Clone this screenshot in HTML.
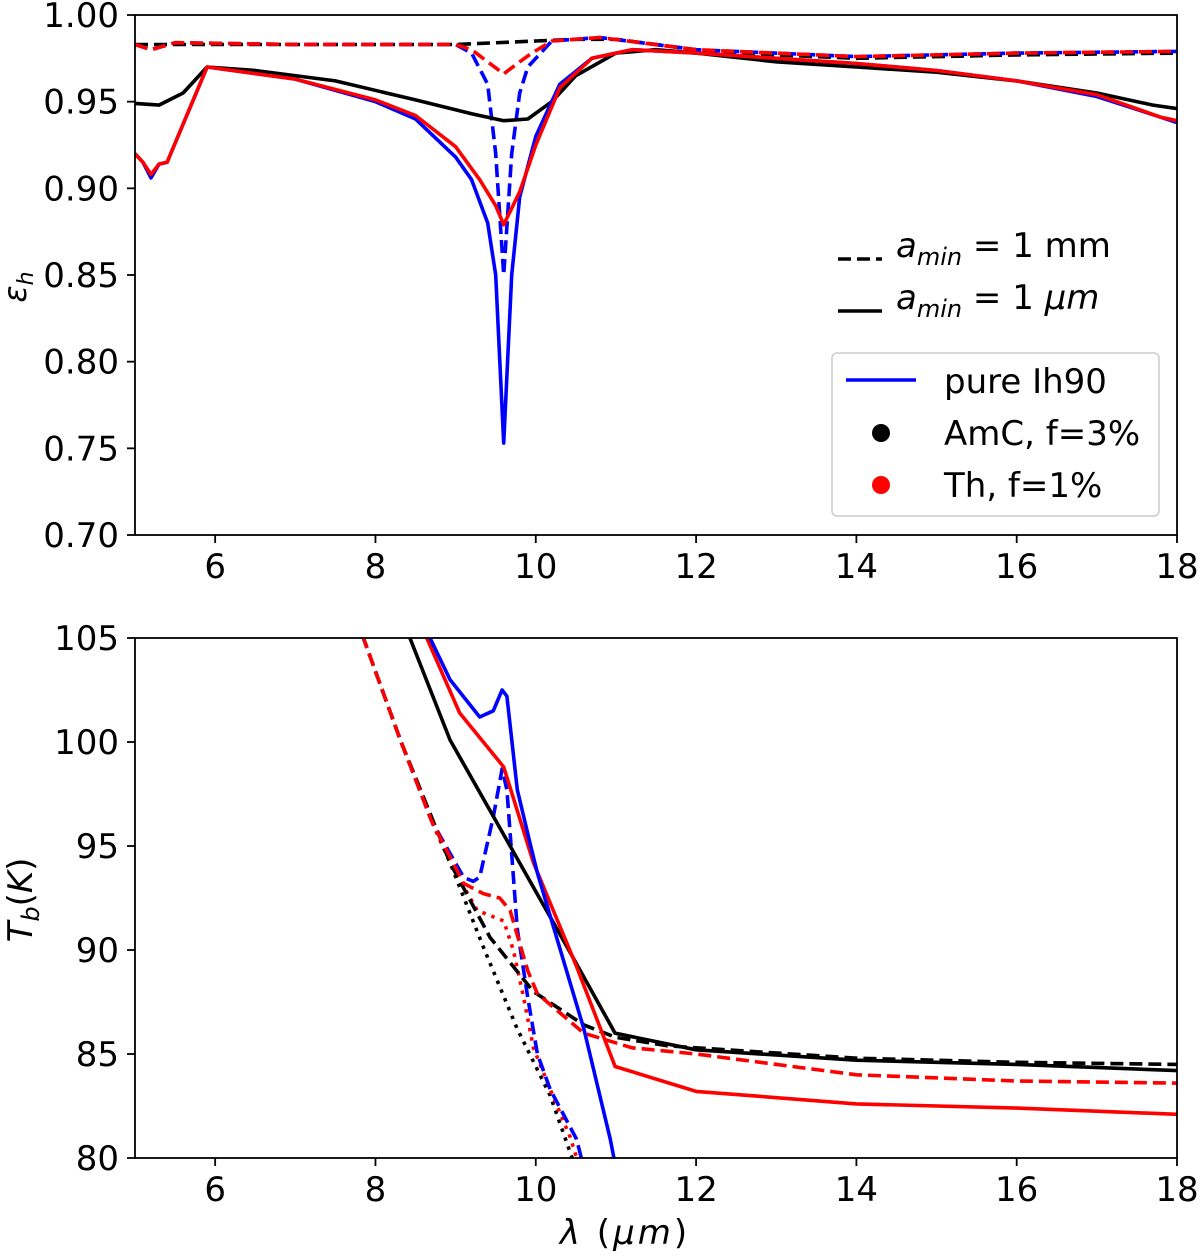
<!DOCTYPE html>
<html><head><meta charset="utf-8">
<style>
html,body{margin:0;padding:0;background:#fff;}
svg text{font-family:"DejaVu Sans","Liberation Sans",sans-serif;fill:#000;}
</style></head>
<body>
<svg id="chart" width="1200" height="1255" viewBox="0 0 1200 1255" xmlns="http://www.w3.org/2000/svg">
<defs>
<clipPath id="clipTop"><rect x="135" y="15" width="1042" height="520"/></clipPath>
<clipPath id="clipBot"><rect x="135" y="638" width="1042" height="520"/></clipPath>
</defs>
<g id="top"></g>
<g id="bot"></g>
</svg>
<script>
// ---- data: top panel (emissivity) ----
const topXTicks = [6, 8, 10, 12, 14, 16, 18];
const topYTicks = [0.70, 0.75, 0.80, 0.85, 0.90, 0.95, 1.00];
const epsBlackSolid = [[5,0.949],[5.3,0.948],[5.6,0.955],[5.9,0.970],[6.5,0.968],[7.5,0.962],[8.5,0.951],[9.2,0.943],[9.6,0.939],[9.9,0.940],[10.2,0.950],[10.5,0.965],[11,0.978],[11.5,0.980],[12,0.978],[13,0.973],[14,0.970],[15,0.967],[16,0.962],[17,0.955],[17.7,0.948],[18,0.946]];
const epsBlueSolid = [[5,0.920],[5.1,0.915],[5.2,0.906],[5.3,0.914],[5.4,0.915],[5.9,0.970],[7,0.963],[8,0.950],[8.5,0.940],[9,0.918],[9.2,0.905],[9.4,0.880],[9.5,0.85],[9.6,0.753],[9.7,0.85],[9.8,0.895],[10,0.93],[10.3,0.96],[10.7,0.975],[11.2,0.980],[12,0.978],[13,0.975],[14,0.972],[15,0.968],[16,0.962],[17,0.953],[17.8,0.941],[18,0.938]];
const epsRedSolid = [[5,0.920],[5.1,0.915],[5.2,0.908],[5.3,0.914],[5.4,0.915],[5.9,0.970],[7,0.963],[8,0.951],[8.5,0.942],[9,0.924],[9.3,0.905],[9.5,0.890],[9.6,0.879],[9.8,0.898],[10,0.925],[10.3,0.958],[10.7,0.975],[11.2,0.980],[12,0.978],[13,0.975],[14,0.972],[15,0.968],[16,0.962],[17,0.954],[17.8,0.941],[18,0.939]];
const epsBlackDashed = [[5,0.983],[7,0.983],[9,0.983],[10,0.985],[10.5,0.986],[11,0.986],[12,0.980],[13,0.977],[14,0.975],[16,0.977],[18,0.978]];
const epsBlueDashed = [[5,0.983],[5.2,0.980],[5.5,0.984],[7,0.983],[9,0.983],[9.2,0.978],[9.4,0.96],[9.5,0.92],[9.6,0.85],[9.7,0.92],[9.8,0.955],[9.9,0.970],[10.2,0.985],[10.8,0.987],[12,0.980],[14,0.976],[16,0.978],[18,0.979]];
const epsRedDashed = [[5,0.983],[5.2,0.980],[5.5,0.984],[7,0.983],[9,0.983],[9.2,0.980],[9.4,0.973],[9.6,0.966],[9.8,0.973],[9.95,0.978],[10.2,0.985],[10.8,0.987],[12,0.980],[14,0.976],[16,0.978],[18,0.979]];
// ---- data: bottom panel (brightness temperature) ----
const botXTicks = [6, 8, 10, 12, 14, 16, 18];
const botYTicks = [80, 85, 90, 95, 100, 105];
const tbBlueSolid = [[8.6,106],[8.68,105],[8.93,103.0],[9.3,101.2],[9.47,101.5],[9.58,102.5],[9.64,102.2],[9.77,97.7],[9.93,95.1],[10.02,93.7],[10.6,86.2],[10.93,80.9],[11.0,79.5]];
const tbRedSolid = [[8.55,106],[8.64,105],[9.05,101.4],[9.6,98.8],[9.97,94.2],[10.51,89.2],[10.99,84.4],[12,83.2],[14,82.6],[16,82.4],[18,82.1]];
const tbBlackSolid = [[8.35,106],[8.43,105],[8.93,100.1],[9.68,95.0],[10.34,90.5],[10.99,86.0],[12,85.2],[14,84.7],[16,84.5],[18,84.2]];
const tbBlackDashed = [[7.78,106],[7.85,105],[8.31,100.1],[8.93,94.2],[9.43,90.6],[9.97,88.0],[10.6,86.4],[11,85.8],[11.64,85.4],[12,85.3],[14,84.8],[16,84.6],[18,84.5]];
const tbRedDashed = [[7.78,106],[7.85,105],[8.31,100.1],[8.7,96.2],[9.1,93.2],[9.35,92.7],[9.55,92.5],[9.68,91.9],[9.9,89.0],[10.02,87.9],[10.6,86.0],[11.2,85.3],[12,85.0],[14,84.0],[16,83.7],[18,83.6]];
const tbBlueDashed = [[7.78,106],[7.85,105],[8.31,100.1],[8.7,96.2],[9.1,93.5],[9.22,93.3],[9.3,93.5],[9.47,96.4],[9.58,98.7],[9.64,97.7],[9.77,91.0],[9.9,87.7],[10.02,85.0],[10.18,83.3],[10.51,80.9],[10.6,79.5]];
const tbRedDotted = [[7.78,106],[7.85,105],[8.31,100.1],[8.7,96.2],[8.93,94.2],[9.27,91.9],[9.6,91.4],[9.72,90.0],[9.85,87.7],[9.97,85.3],[10.18,83.3],[10.43,81.0],[10.55,79.5]];
const tbBlackDotted = [[7.78,106],[7.85,105],[8.31,100.1],[8.7,96.2],[8.93,94.2],[9.35,90.1],[9.77,86.2],[10.18,83.0],[10.5,79.5]];

const NS = "http://www.w3.org/2000/svg";
const X0 = 135, X1 = 1177;
function xs(v){ return X0 + (v - 5) / 13 * (X1 - X0); }
function ysTop(v){ return 15 + (1.0 - v) / 0.30 * 520; }
function ysBot(v){ return 638 + (105 - v) / 25 * 520; }

function mk(tag, attrs, parent){
  const e = document.createElementNS(NS, tag);
  for (const k in attrs) e.setAttribute(k, attrs[k]);
  parent.appendChild(e);
  return e;
}
const DASH = "13,6", DOT = "3.5,6";

function drawLine(parent, data, yf, color, dash, name, clip){
  const d = data.map((p, i) => (i ? "L" : "M") + xs(p[0]).toFixed(1) + "," + yf(p[1]).toFixed(1)).join("");
  const attrs = {d: d, fill: "none", stroke: color, "stroke-width": 3.6, "stroke-linejoin": "round", "clip-path": "url(#" + clip + ")"};
  if (dash) attrs["stroke-dasharray"] = dash;
  const el = mk("path", attrs, parent);
  
  
}

function drawAxes(parent, top, bottom, xt, yt, yf, yfmt, prefix){
  const frame = mk("rect", {x: X0, y: top, width: X1 - X0, height: bottom - top, fill: "none", stroke: "#000", "stroke-width": 1.8}, parent);
  
  
  xt.forEach(v => {
    const x = xs(v);
    mk("line", {x1: x, x2: x, y1: bottom, y2: bottom + 8, stroke: "#000", "stroke-width": 1.8}, parent);
    const t = mk("text", {x: x, y: bottom + 43, "font-size": 34, "text-anchor": "middle"}, parent);
    t.textContent = v;
    
    
  });
  yt.forEach(v => {
    const y = yf(v);
    mk("line", {x1: X0 - 8, x2: X0, y1: y, y2: y, stroke: "#000", "stroke-width": 1.8}, parent);
    const t = mk("text", {x: X0 - 16, y: y + 12, "font-size": 34, "text-anchor": "end"}, parent);
    t.textContent = yfmt(v);
    
    
  });
}

const gTop = document.getElementById("top");
const gBot = document.getElementById("bot");

drawLine(gTop, epsBlackDashed, ysTop, "#000", DASH, "eps-amc-1mm-dashed", "clipTop");
drawLine(gTop, epsBlueDashed, ysTop, "#0000ff", DASH, "eps-ih90-1mm-dashed", "clipTop");
drawLine(gTop, epsRedDashed, ysTop, "#ff0000", DASH, "eps-th-1mm-dashed", "clipTop");
drawLine(gTop, epsBlackSolid, ysTop, "#000", null, "eps-amc-1um-solid", "clipTop");
drawLine(gTop, epsBlueSolid, ysTop, "#0000ff", null, "eps-ih90-1um-solid", "clipTop");
drawLine(gTop, epsRedSolid, ysTop, "#ff0000", null, "eps-th-1um-solid", "clipTop");
drawAxes(gTop, 15, 535, topXTicks, topYTicks, ysTop, v => v.toFixed(2), "top");

drawLine(gBot, tbBlackDotted, ysBot, "#000", DOT, "tb-amc-dotted", "clipBot");
drawLine(gBot, tbRedDotted, ysBot, "#ff0000", DOT, "tb-th-dotted", "clipBot");
drawLine(gBot, tbBlueDashed, ysBot, "#0000ff", DASH, "tb-ih90-1mm-dashed", "clipBot");
drawLine(gBot, tbBlackDashed, ysBot, "#000", DASH, "tb-amc-1mm-dashed", "clipBot");
drawLine(gBot, tbRedDashed, ysBot, "#ff0000", DASH, "tb-th-1mm-dashed", "clipBot");
drawLine(gBot, tbBlackSolid, ysBot, "#000", null, "tb-amc-1um-solid", "clipBot");
drawLine(gBot, tbRedSolid, ysBot, "#ff0000", null, "tb-th-1um-solid", "clipBot");
drawLine(gBot, tbBlueSolid, ysBot, "#0000ff", null, "tb-ih90-1um-solid", "clipBot");
drawAxes(gBot, 638, 1158, botXTicks, botYTicks, ysBot, v => String(v), "bottom");
</script>
<svg style="position:absolute;left:0;top:0" width="1200" height="1255">
<text x="0" y="0" font-size="32" font-style="italic" transform="translate(26,287) rotate(-90)" text-anchor="middle" font-family="DejaVu Sans, sans-serif">ε<tspan font-size="22" dy="7">h</tspan></text>
<text x="0" y="0" font-size="34" transform="translate(32,900) rotate(-90)" text-anchor="middle" font-family="DejaVu Sans, sans-serif"><tspan font-style="italic">T</tspan><tspan font-size="24" dy="7" font-style="italic">b</tspan><tspan dy="-7">(</tspan><tspan font-style="italic">K</tspan>)</text>
<text x="625" y="1244" font-size="34" text-anchor="middle" letter-spacing="3" font-family="DejaVu Sans, sans-serif"><tspan font-style="italic">λ</tspan> (<tspan font-style="italic">μm</tspan>)</text>
<g>
<line x1="838" y1="259" x2="882" y2="259" stroke="#000" stroke-width="3.6" stroke-dasharray="13,6"/>
<text x="896" y="257" font-size="34" font-family="DejaVu Sans, sans-serif"><tspan font-style="italic">a</tspan><tspan font-size="24" dy="8" font-style="italic">min</tspan><tspan dy="-8"> = 1 mm</tspan></text>
<line x1="838" y1="311" x2="882" y2="311" stroke="#000" stroke-width="3.6"/>
<text x="896" y="309" font-size="34" font-family="DejaVu Sans, sans-serif"><tspan font-style="italic">a</tspan><tspan font-size="24" dy="8" font-style="italic">min</tspan><tspan dy="-8"> = 1 </tspan><tspan font-style="italic">μm</tspan></text>
</g>
<g>
<rect x="832" y="353" width="327" height="163" rx="5" fill="#fff" fill-opacity="0.8" stroke="#ccc" stroke-width="1.5"/>
<line x1="846" y1="380" x2="916" y2="380" stroke="#0000ff" stroke-width="3.6"/>
<text x="944" y="393" font-size="34" font-family="DejaVu Sans, sans-serif">pure Ih90</text>
<circle cx="881" cy="433" r="9" fill="#000"/>
<text x="944" y="445" font-size="34" font-family="DejaVu Sans, sans-serif">AmC, f=3%</text>
<circle cx="881" cy="485" r="9" fill="#ff0000"/>
<text x="944" y="497" font-size="34" font-family="DejaVu Sans, sans-serif">Th, f=1%</text>
</g>
</svg>
</body></html>
